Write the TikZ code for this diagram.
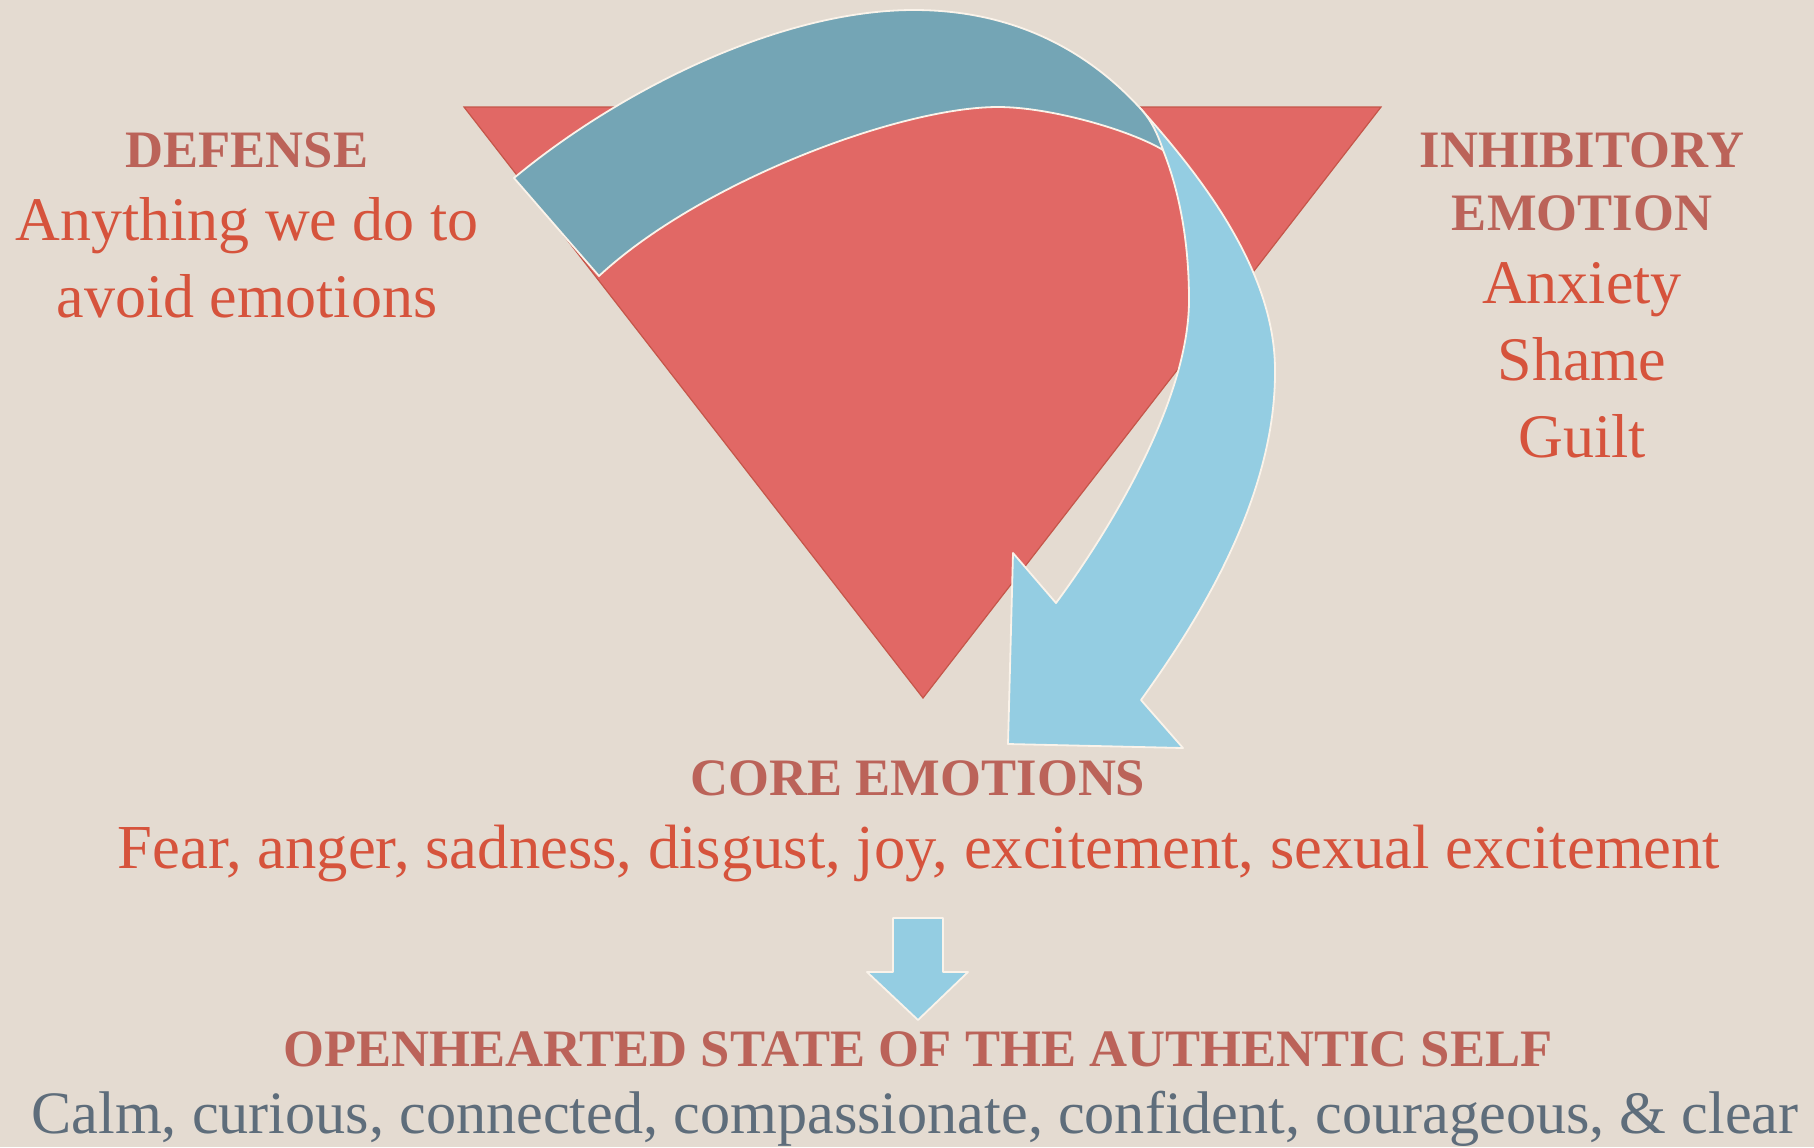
\documentclass[tikz,border=0pt]{standalone}
\usepackage{fontspec}
\setmainfont{Liberation Serif}
\usepackage{tikz}
\usetikzlibrary{arrows.meta,calc}
\definecolor{embg}{RGB}{228,219,209}
\definecolor{emtri}{RGB}{225,104,101}
\definecolor{emtriedge}{RGB}{197,86,74}
\definecolor{emteal}{RGB}{116,165,181}
\definecolor{emsky}{RGB}{148,205,226}
\definecolor{emedge}{RGB}{250,243,234}
\definecolor{emhead}{RGB}{187,99,89}
\definecolor{embody}{RGB}{214,83,60}
\definecolor{emgray}{RGB}{94,109,123}

\begin{document}
\begin{tikzpicture}[x=0.5pt,y=-0.5pt,
  txt/.style={anchor=base,inner sep=0pt},
  head/.style={txt,text=emhead,font=\bfseries\fontsize{26.3}{30}\selectfont},
  body/.style={txt,text=embody,font=\fontsize{31}{36}\selectfont},
  band/.style={draw=emedge,line width=0.9pt,line join=round}]
  \useasboundingbox (0,0) rectangle (1814,1147);
  \fill[embg] (0,0) rectangle (1814,1147);

  % triangle
  \coordinate (TL) at (464,107);
  \coordinate (TR) at (1381,107);
  \coordinate (TB) at (923,698);
  \fill[emtri] (TL)--(TR)--(TB)--cycle;
  \draw[emtriedge,line width=0.6pt] (TL)--(TR)--(TB)--cycle;

  % curved arrow
  \coordinate (A) at (514,178);  % back end, outer
  \coordinate (C) at (599,276);  % back end, inner
  \coordinate (P) at (914,10);   % top of outer edge
  \coordinate (M) at (998,107);  % top of inner edge
  \coordinate (Q) at (1140,108); % twist, outer
  \coordinate (B) at (1163,150); % twist, inner
  \coordinate (R) at (1275,370);
  \coordinate (S) at (1189,300);
  \coordinate (D) at (1141,700);
  \coordinate (E) at (1056,603);
  \coordinate (H1) at (1183,748);
  \coordinate (H2) at (1008,744);
  \coordinate (H3) at (1013,553);

  \filldraw[band,fill=emsky]
    (Q) .. controls (1200,175) and (1275,270) .. (R)
        .. controls (1276,500) and (1195,625) .. (D)
    -- (H1) -- (H2) -- (H3) -- (E)
        .. controls (1110,530) and (1189,400) .. (S)
        .. controls (1189,230) and (1175,180) .. (B)
    -- cycle;
  \filldraw[band,fill=emteal]
    (A) .. controls (620,90) and (780,10) .. (P)
        .. controls (1035,10) and (1105,70) .. (Q)
        .. controls (1152,121) and (1158,135) .. (B)
        .. controls (1130,130) and (1050,107) .. (M)
        .. controls (900,107) and (700,182) .. (C)
    -- cycle;

  % small arrow
  \filldraw[band,fill=emsky] (893,918) -- (943,918) -- (943,972) -- (968,972)
    -- (918,1020) -- (867,972) -- (893,972) -- cycle;

  % labels
  \node[head] (defense) at (247,167) {DEFENSE};
  \node[body] (defense1) at (247,240) {Anything we do to};
  \node[body] (defense2) at (247,317) {avoid emotions};

  \node[head] (inhib1) at (1582,167) {INHIBITORY};
  \node[head] (inhib2) at (1582,230) {EMOTION};
  \node[body] (anxiety) at (1582,303) {Anxiety};
  \node[body] (shame) at (1582,380) {Shame};
  \node[body] (guilt) at (1582,457) {Guilt};

  \node[head] (core) at (918,795) {CORE EMOTIONS};
  \node[body,font=\fontsize{31.3}{36}\selectfont] (corelist) at (919,868)
    {Fear, anger, sadness, disgust, joy, excitement, sexual excitement};

  \node[head] (self) at (918,1066) {OPENHEARTED STATE OF THE AUTHENTIC SELF};
  \node[txt,text=emgray,font=\fontsize{30.1}{36}\selectfont] (selflist) at (915,1133)
    {Calm, curious, connected, compassionate, confident, courageous, \& clear};
\end{tikzpicture}
\end{document}
